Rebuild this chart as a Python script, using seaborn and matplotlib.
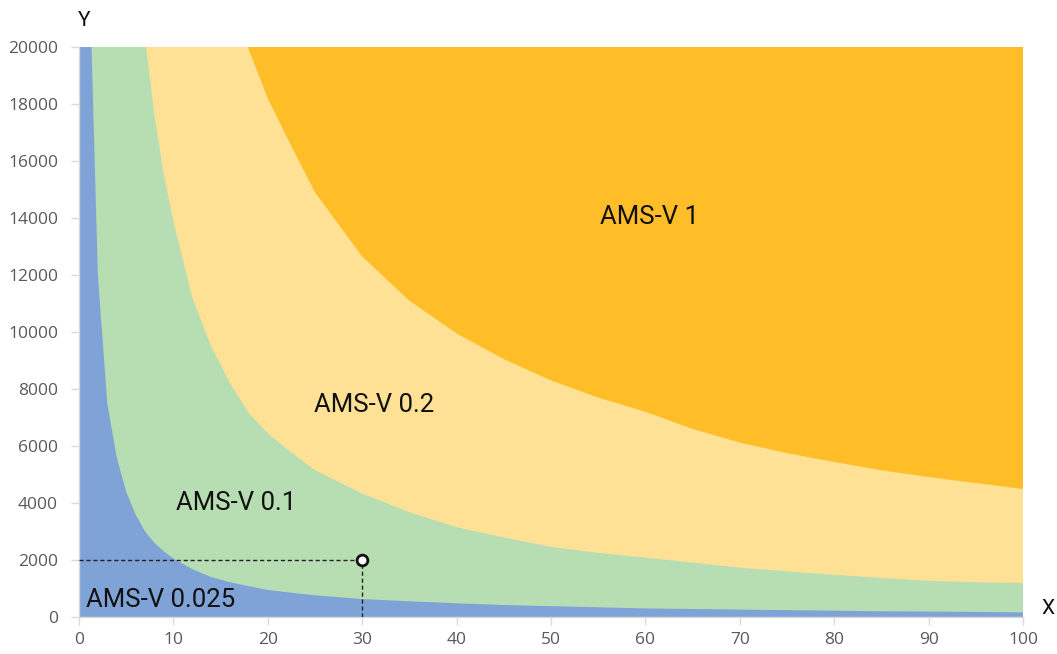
import numpy as np
import pandas as pd
import seaborn as sns
import matplotlib.pyplot as plt

# x grid shared by all boundary curves
x_vals = [0, 1, 2, 3, 4, 5, 6, 7, 8, 9, 10, 12, 14, 16, 18, 20, 22, 25, 30, 35,
          40, 45, 50, 55, 60, 65, 70, 75, 80, 85, 90, 95, 100]

# upper boundary of each band (values above 20000 are cut off by the axis)
ams_0025 = [24000, 24000, 12000, 7500, 5600, 4400, 3600, 3000, 2600, 2300, 2050,
            1680, 1400, 1220, 1080, 950, 870, 760, 630, 550, 480, 420, 380, 340,
            300, 280, 260, 240, 220, 200, 190, 180, 160]
ams_01 = [24000, 24000, 24000, 24000, 24000, 24000, 23500, 20300, 17600, 15500,
          13900, 11200, 9500, 8200, 7150, 6450, 5900, 5150, 4330, 3680, 3150, 2790,
          2460, 2250, 2080, 1910, 1730, 1600, 1480, 1370, 1270, 1220, 1190]
ams_02 = [24000, 24000, 24000, 24000, 24000, 24000, 24000, 24000, 24000, 24000,
          24000, 24000, 24000, 22400, 19900, 18200, 16850, 14900, 12650, 11100,
          9950, 9050, 8300, 7700, 7200, 6600, 6120, 5750, 5440, 5150, 4910, 4700, 4490]
ams_1 = [24000] * len(x_vals)

band_names = ["AMS-V 0.025", "AMS-V 0.1", "AMS-V 0.2", "AMS-V 1"]
band_colors = ["#7FA3D6", "#B7DDB2", "#FEE194", "#FFBE28"]

# example point
pt_x = [30]
pt_y = [2000]

df = pd.DataFrame({"x": x_vals, "AMS-V 0.025": ams_0025, "AMS-V 0.1": ams_01,
                   "AMS-V 0.2": ams_02, "AMS-V 1": ams_1})

sns.set_theme(style="white")
plt.rcParams["font.family"] = ["Open Sans", "DejaVu Sans"]

fig, ax = plt.subplots(figsize=(10.57, 6.54), dpi=100)
fig.subplots_adjust(left=0.0747, right=0.9678, bottom=0.0566, top=0.9281)

# paint from the outer band inwards, each one from 0 up to its boundary; the axis cuts the top
for name, col in reversed(list(zip(band_names, band_colors))):
    ax.fill_between(df["x"], 0, df[name], color=col, lw=0, label=name, zorder=1)

# dashed guide lines to the example point
ax.plot([0, pt_x[0]], [pt_y[0], pt_y[0]], ls=(0, (3, 2)), color="#222222", lw=1, zorder=3)
ax.plot([pt_x[0], pt_x[0]], [0, pt_y[0]], ls=(0, (3, 2)), color="#222222", lw=1, zorder=3)
sns.scatterplot(x=pt_x, y=pt_y, ax=ax, s=60, color="white", edgecolor="#111111",
                linewidth=2, zorder=4, legend=False)

ax.set_xlim(0, 100)
ax.set_ylim(0, 20000)
ax.set_xticks(range(0, 101, 10))
ax.set_yticks(range(0, 20001, 2000))

for s in ["top", "right"]:
    ax.spines[s].set_visible(False)
for s in ["left", "bottom"]:
    ax.spines[s].set_color("#D9D9D9")
    ax.spines[s].set_linewidth(1)
ax.tick_params(axis="both", which="major", direction="out", length=6, width=1,
               color="#D9D9D9", labelcolor="#595959", labelsize=12.5)
ax.tick_params(axis="y", pad=9, left=True)
ax.tick_params(axis="x", pad=5, bottom=True)
ax.set_xlabel("")
ax.set_ylabel("")

lab_font = ["Roboto", "DejaVu Sans"]
ax.text(60.4, 14035, "AMS-V 1", fontsize=18.5, ha="center", va="center", color="#111111", family=lab_font)
ax.text(31.3, 7440, "AMS-V 0.2", fontsize=18.5, ha="center", va="center", color="#111111", family=lab_font)
ax.text(16.6, 4000, "AMS-V 0.1", fontsize=18.5, ha="center", va="center", color="#111111", family=lab_font)
ax.text(8.7, 600, "AMS-V 0.025", fontsize=18.5, ha="center", va="center", color="#111111", family=lab_font)

fig.text(0.080, 0.969, "Y", fontsize=15, ha="center", va="center", color="#111111", family=lab_font)
fig.text(0.9915, 0.070, "X", fontsize=15, ha="center", va="center", color="#111111", family=lab_font)

fig.savefig("out.png", dpi=100)
